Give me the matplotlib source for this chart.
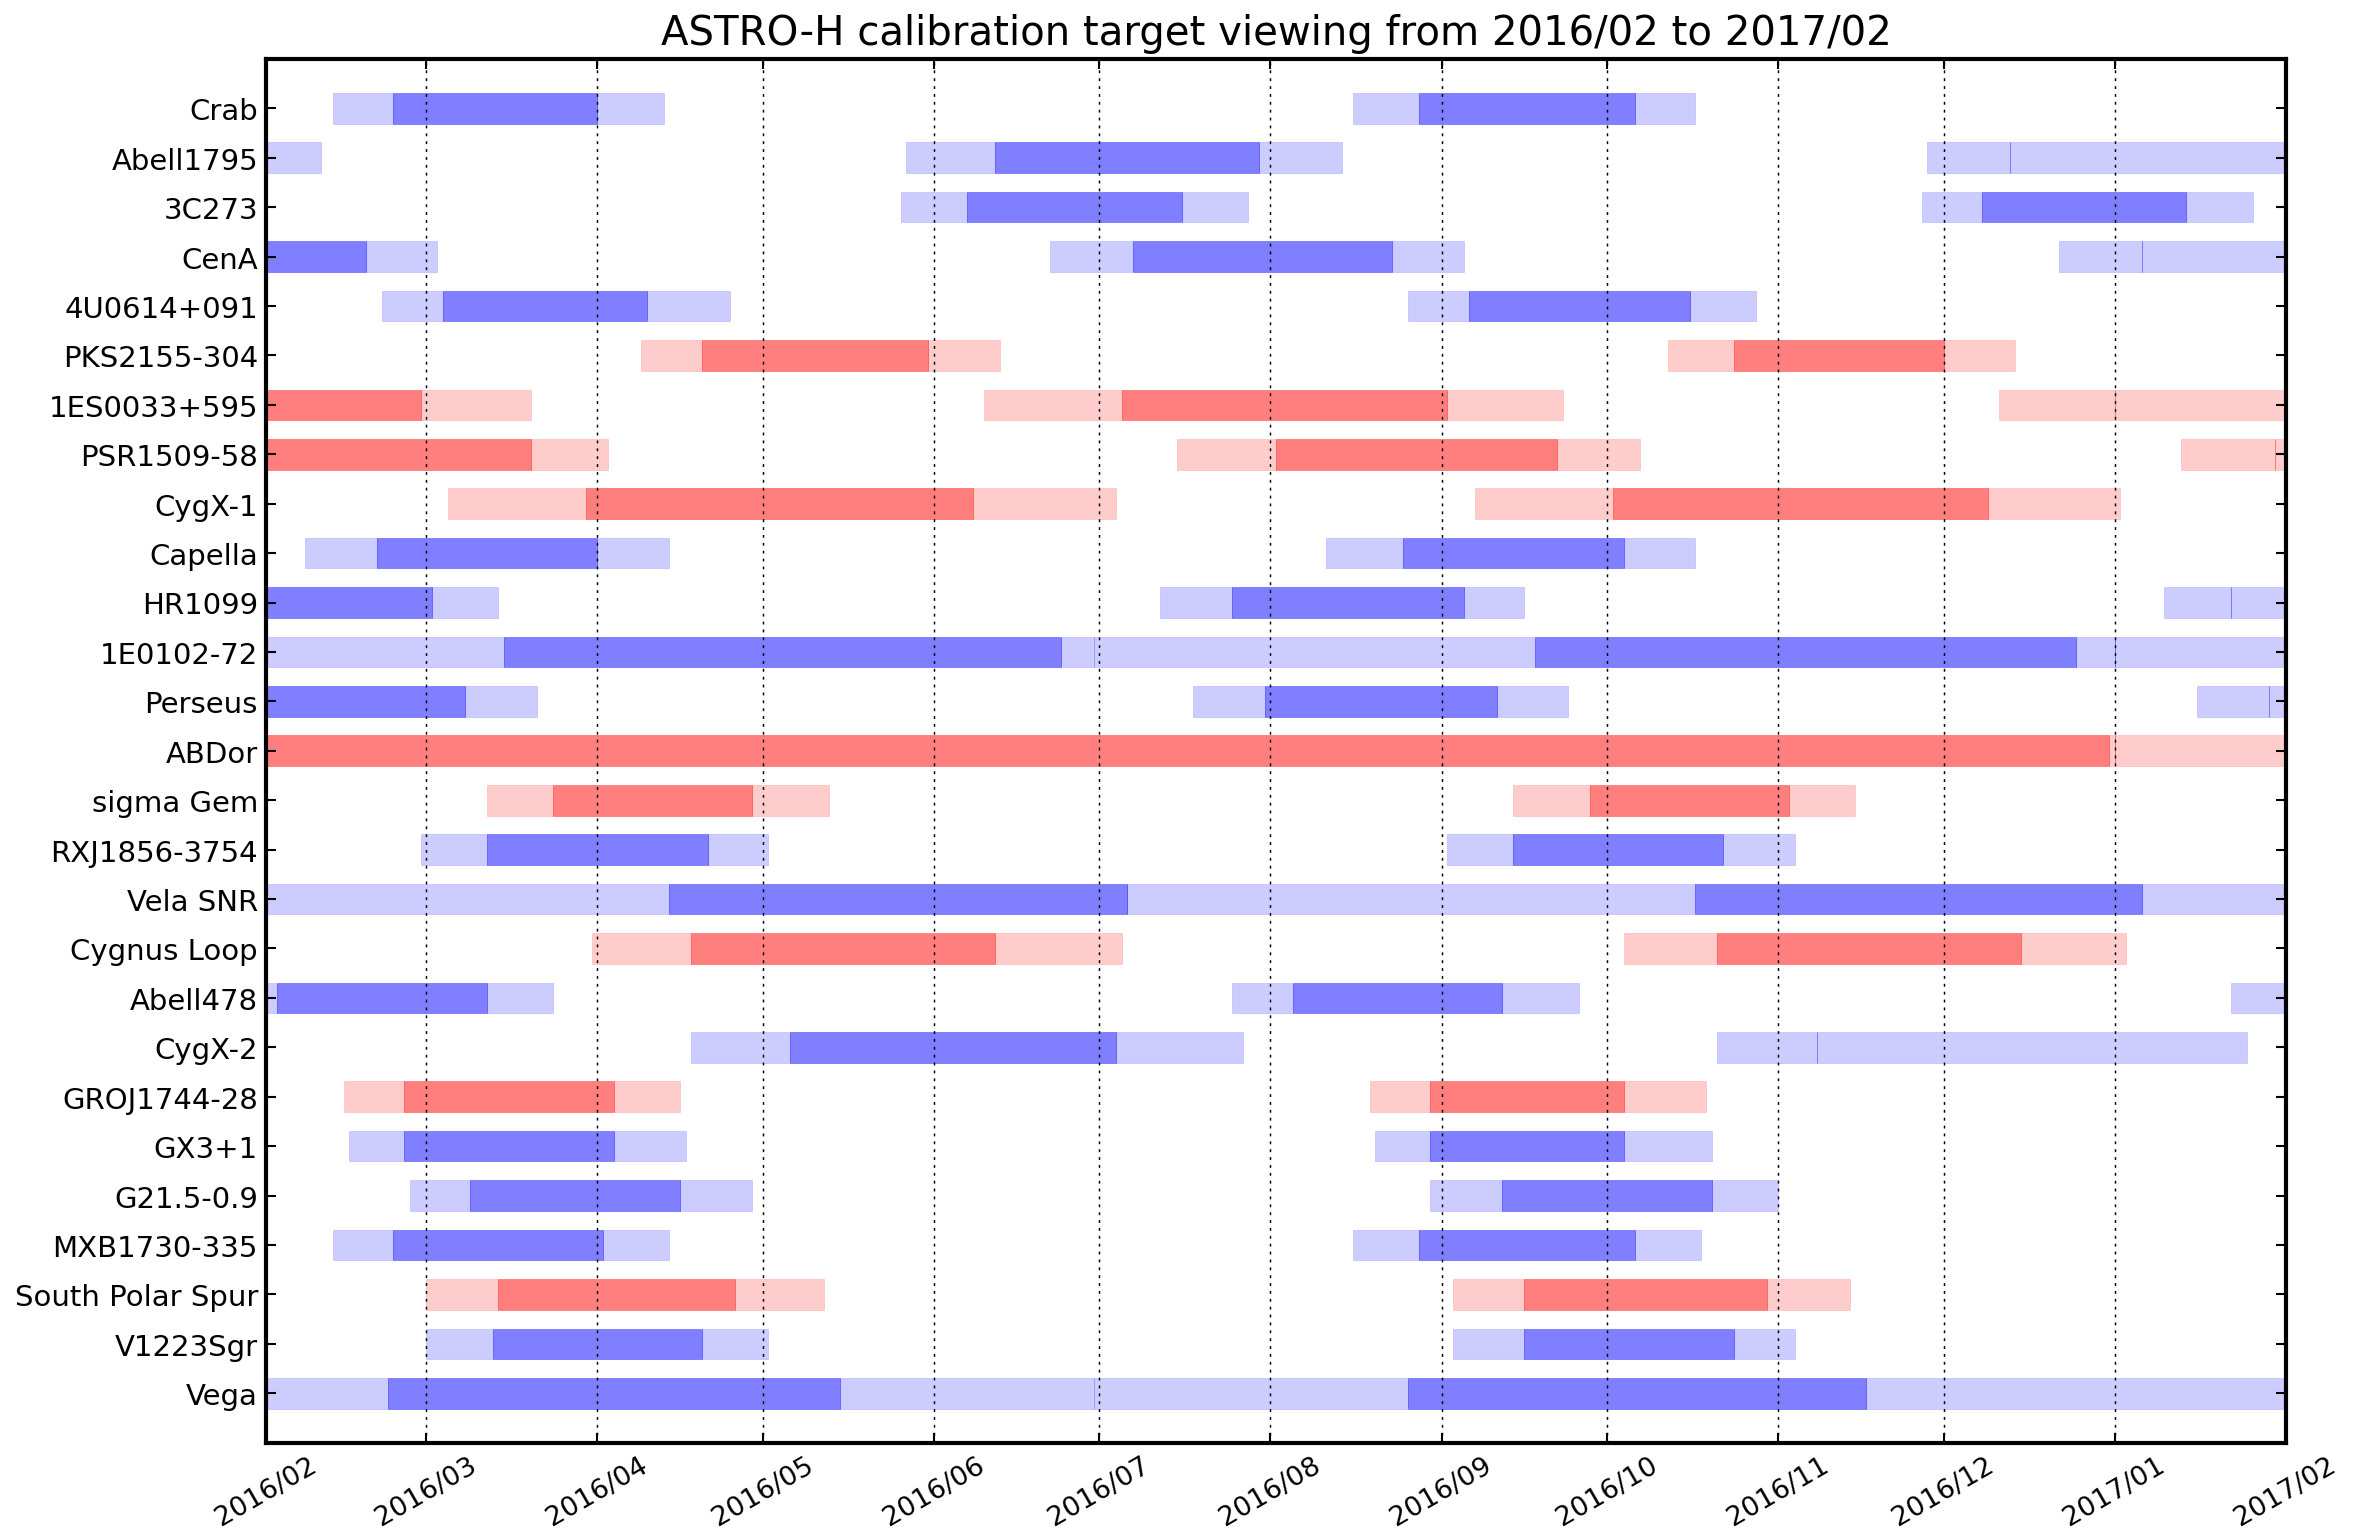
import matplotlib
matplotlib.use("Agg")
import matplotlib.pyplot as plt
import matplotlib.dates as mdates

# targets top to bottom, "b" = blue, "r" = red
targets = ["Crab", "Abell1795", "3C273", "CenA", "4U0614+091", "PKS2155-304",
           "1ES0033+595", "PSR1509-58", "CygX-1", "Capella", "HR1099",
           "1E0102-72", "Perseus", "ABDor", "sigma Gem", "RXJ1856-3754",
           "Vela SNR", "Cygnus Loop", "Abell478", "CygX-2", "GROJ1744-28",
           "GX3+1", "G21.5-0.9", "MXB1730-335", "South Polar Spur",
           "V1223Sgr", "Vega"]
kinds = ["b", "b", "b", "b", "b", "r", "r", "r", "r", "b", "b", "b", "b", "r",
         "r", "b", "b", "r", "b", "b", "r", "b", "b", "b", "r", "b", "b"]

# visibility windows: (light start, dark start, dark end, light end)
windows = [
    [("2016-02-13", "2016-02-24", "2016-04-01", "2016-04-13"), ("2016-08-16", "2016-08-28", "2016-10-06", "2016-10-17")],
    [("2016-02-01", "2016-02-01", "2016-02-01", "2016-02-11"), ("2016-05-27", "2016-06-12", "2016-07-30", "2016-08-14"),
     ("2016-11-28", "2016-12-13", "2016-12-13", "2017-02-01")],
    [("2016-05-26", "2016-06-07", "2016-07-16", "2016-07-28"), ("2016-11-27", "2016-12-08", "2017-01-14", "2017-01-26")],
    [("2016-02-01", "2016-02-01", "2016-02-19", "2016-03-03"), ("2016-06-22", "2016-07-07", "2016-08-23", "2016-09-05"),
     ("2016-12-22", "2017-01-06", "2017-01-06", "2017-02-01")],
    [("2016-02-22", "2016-03-04", "2016-04-10", "2016-04-25"), ("2016-08-26", "2016-09-06", "2016-10-16", "2016-10-28")],
    [("2016-04-09", "2016-04-20", "2016-05-31", "2016-06-13"), ("2016-10-12", "2016-10-24", "2016-12-01", "2016-12-14")],
    [("2016-02-01", "2016-02-01", "2016-02-29", "2016-03-20"), ("2016-06-10", "2016-07-05", "2016-09-02", "2016-09-23"),
     ("2016-12-11", "2017-01-01", "2017-01-01", "2017-02-01")],
    [("2016-02-01", "2016-02-01", "2016-03-20", "2016-04-03"), ("2016-07-15", "2016-08-02", "2016-09-22", "2016-10-07"),
     ("2017-01-13", "2017-01-30", "2017-01-30", "2017-02-01")],
    [("2016-03-05", "2016-03-30", "2016-06-08", "2016-07-04"), ("2016-09-07", "2016-10-02", "2016-12-09", "2017-01-02")],
    [("2016-02-08", "2016-02-21", "2016-04-01", "2016-04-14"), ("2016-08-11", "2016-08-25", "2016-10-04", "2016-10-17")],
    [("2016-02-01", "2016-02-01", "2016-03-02", "2016-03-14"), ("2016-07-12", "2016-07-25", "2016-09-05", "2016-09-16"),
     ("2017-01-10", "2017-01-22", "2017-01-22", "2017-02-01")],
    [("2016-02-01", "2016-03-15", "2016-06-24", "2016-06-30"), ("2016-06-30", "2016-09-18", "2016-12-25", "2017-01-01"),
     ("2017-01-01", "2017-01-01", "2017-01-01", "2017-02-01")],
    [("2016-02-01", "2016-02-01", "2016-03-08", "2016-03-21"), ("2016-07-18", "2016-07-31", "2016-09-11", "2016-09-24"),
     ("2017-01-16", "2017-01-29", "2017-01-29", "2017-02-01")],
    [("2016-02-01", "2016-02-01", "2016-12-31", "2017-01-01"), ("2017-01-01", "2017-01-01", "2017-01-01", "2017-02-01")],
    [("2016-03-12", "2016-03-24", "2016-04-29", "2016-05-13"), ("2016-09-14", "2016-09-28", "2016-11-03", "2016-11-15")],
    [("2016-02-29", "2016-03-12", "2016-04-21", "2016-05-02"), ("2016-09-02", "2016-09-14", "2016-10-22", "2016-11-04")],
    [("2016-02-01", "2016-04-14", "2016-07-06", "2016-07-06"), ("2016-07-06", "2016-10-17", "2017-01-06", "2017-02-01")],
    [("2016-03-31", "2016-04-18", "2016-06-12", "2016-07-05"), ("2016-10-04", "2016-10-21", "2016-12-15", "2017-01-03")],
    [("2016-02-01", "2016-02-03", "2016-03-12", "2016-03-24"), ("2016-07-25", "2016-08-05", "2016-09-12", "2016-09-26"),
     ("2017-01-22", "2017-02-01", "2017-02-01", "2017-02-01")],
    [("2016-04-18", "2016-05-06", "2016-07-04", "2016-07-27"), ("2016-10-21", "2016-11-08", "2016-11-08", "2017-01-25")],
    [("2016-02-15", "2016-02-26", "2016-04-04", "2016-04-16"), ("2016-08-19", "2016-08-30", "2016-10-04", "2016-10-19")],
    [("2016-02-16", "2016-02-26", "2016-04-04", "2016-04-17"), ("2016-08-20", "2016-08-30", "2016-10-04", "2016-10-20")],
    [("2016-02-27", "2016-03-09", "2016-04-16", "2016-04-29"), ("2016-08-30", "2016-09-12", "2016-10-20", "2016-11-01")],
    [("2016-02-13", "2016-02-24", "2016-04-02", "2016-04-14"), ("2016-08-16", "2016-08-28", "2016-10-06", "2016-10-18")],
    [("2016-03-01", "2016-03-14", "2016-04-26", "2016-05-12"), ("2016-09-03", "2016-09-16", "2016-10-30", "2016-11-14")],
    [("2016-03-01", "2016-03-13", "2016-04-20", "2016-05-02"), ("2016-09-03", "2016-09-16", "2016-10-24", "2016-11-04")],
    [("2016-02-01", "2016-02-23", "2016-05-15", "2016-06-30"), ("2016-06-30", "2016-08-26", "2016-11-17", "2017-02-01")],
]

start, stop = "2016-02-01", "2017-02-01"

fig, ax = plt.subplots(figsize=(15.753, 10.233), dpi=150)
fig.subplots_adjust(left=0.1127, right=0.9673, bottom=0.0595, top=0.961)

for row, (segs, kind) in enumerate(zip(windows, kinds)):
    base = "blue" if kind == "b" else "red"
    for seg in segs:
        ls, ds, de, le = [mdates.datestr2num(s) for s in seg]
        kw = dict(height=0.62, color=base, edgecolor=base, linewidth=0.3)
        ax.barh(row, ds - ls, left=ls, alpha=0.2, **kw)
        ax.barh(row, de - ds, left=ds, alpha=0.35 if de == ds else 0.5, **kw)
        ax.barh(row, le - de, left=de, alpha=0.2, **kw)

ax.set_xlim(mdates.datestr2num(start), mdates.datestr2num(stop))
ax.set_ylim(len(targets), -1)
ax.set_yticks(range(len(targets)))
ax.set_yticklabels(targets)
ax.xaxis.set_major_locator(mdates.MonthLocator())
ax.xaxis.set_major_formatter(mdates.DateFormatter("%Y/%m"))

ax.set_axisbelow(False)
ax.grid(axis="x", color="k", linestyle=(0, (2, 3.4)), linewidth=0.7)
ax.tick_params(direction="in", top=True, right=True, length=5, width=1, labelsize=14)
ax.tick_params(axis="x", pad=4.5, labelsize=13)
ax.tick_params(axis="y", pad=4)
plt.setp(ax.get_xticklabels(), rotation=30, ha="center")
for sp in ax.spines.values():
    sp.set_linewidth(2)

ax.set_title("ASTRO-H calibration target viewing from 2016/02 to 2017/02", fontsize=19.3, pad=7)

fig.savefig("out.png", dpi=150)
